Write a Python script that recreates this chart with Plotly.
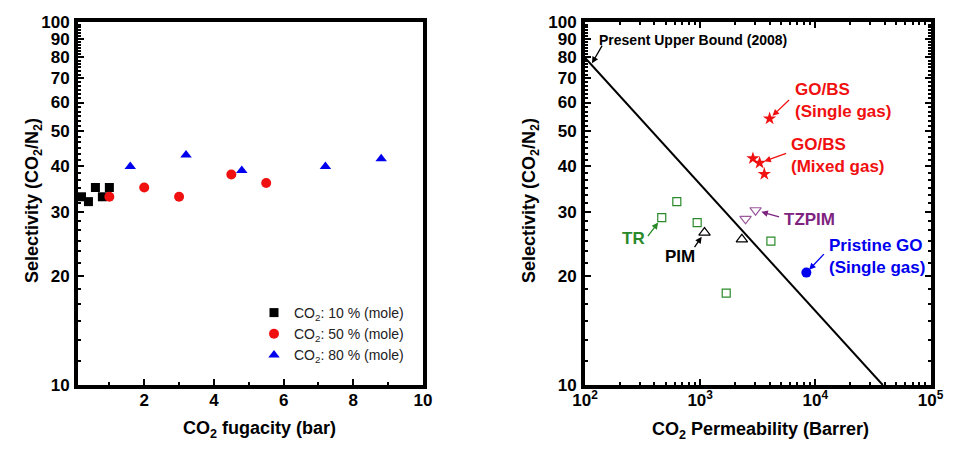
import numpy as np
import plotly.graph_objects as go

# ---------------- data: left panel ----------------
fug_10 = [0.2, 0.4, 0.6, 0.8, 1.0]
sel_10 = [33, 32, 35, 33, 35]
fug_50 = [1.0, 2.0, 3.0, 4.5, 5.5]
sel_50 = [33, 35, 33, 38, 36]
fug_80 = [1.6, 3.2, 4.8, 7.2, 8.8]
sel_80 = [40, 43, 39, 40, 42]
legend_names = ["CO<sub>2</sub>: 10 % (mole)", "CO<sub>2</sub>: 50 % (mole)", "CO<sub>2</sub>: 80 % (mole)"]

# ---------------- data: right panel ----------------
bound_perm = [100, 38500]
bound_sel = [79.7, 10.0]
tr_perm = [464, 627, 942, 1683, 4112]
tr_sel = [28.9, 32.0, 28.0, 17.9, 24.9]
pim_perm = [1091, 2302]
pim_sel = [26.3, 25.2]
tzpim_perm = [2477, 3027]
tzpim_sel = [28.7, 30.3]
gobs_single_perm = [4008]
gobs_single_sel = [54.2]
gobs_mixed_perm = [2871, 3283, 3605]
gobs_mixed_sel = [42.1, 40.9, 38.1]
go_perm = [8357]
go_sel = [20.4]

y_major = [10, 20, 30, 40, 50, 60, 70, 80, 90, 100]
x_left_major = [2, 4, 6, 8, 10]
x_left_minor = [1, 3, 5, 7, 9]
x_right_major = [100, 1000, 10000, 100000]
x_right_labels = ["10<sup>2</sup>", "10<sup>3</sup>", "10<sup>4</sup>", "10<sup>5</sup>"]

# minor ticks on selectivity axis: 5 linear subdivisions between labelled values
y_minor = []
for a, b in zip(y_major[:-1], y_major[1:]):
    y_minor += [a + (b - a) * k / 6 for k in range(1, 6)]
x_right_minor = [m * 10 ** e for e in (2, 3, 4) for m in range(2, 10)]

FONT = "Liberation Sans"
RED = "#f01010"
BLUE = "#0000ee"
GREEN = "#2a8a2a"
PURPLE = "#7e2480"

# page body has an 8px margin: size the figure to fit the window
OFF = 8
W, H = 955 - OFF, 449 - OFF


def px_x(p):
    return (p - OFF) / W


def px_y(p):
    return 1 - (p - OFF) / H


fig = go.Figure()

# left panel
fig.add_trace(go.Scatter(x=fug_10, y=sel_10, mode="markers", name=legend_names[0],
                         marker=dict(symbol="square", size=9, color="black"), xaxis="x", yaxis="y"))
fig.add_trace(go.Scatter(x=fug_50, y=sel_50, mode="markers", name=legend_names[1],
                         marker=dict(symbol="circle", size=10, color=RED), xaxis="x", yaxis="y"))
fig.add_trace(go.Scatter(x=fug_80, y=sel_80, mode="markers", name=legend_names[2],
                         marker=dict(symbol="triangle-up", size=10, color=BLUE), xaxis="x", yaxis="y"))

# right panel
fig.add_trace(go.Scatter(x=bound_perm, y=bound_sel, mode="lines", showlegend=False,
                         line=dict(color="black", width=2), xaxis="x2", yaxis="y2"))
fig.add_trace(go.Scatter(x=tr_perm, y=tr_sel, mode="markers", showlegend=False,
                         marker=dict(symbol="square-open", size=8, color=GREEN, line=dict(width=1.2)),
                         xaxis="x2", yaxis="y2"))
fig.add_trace(go.Scatter(x=pim_perm, y=pim_sel, mode="markers", showlegend=False,
                         marker=dict(symbol="triangle-up-open", size=10, color="black", line=dict(width=1.2)),
                         xaxis="x2", yaxis="y2"))
fig.add_trace(go.Scatter(x=tzpim_perm, y=tzpim_sel, mode="markers", showlegend=False,
                         marker=dict(symbol="triangle-down-open", size=10, color="#9a5a9c", line=dict(width=1.2)),
                         xaxis="x2", yaxis="y2"))
fig.add_trace(go.Scatter(x=gobs_single_perm + gobs_mixed_perm, y=gobs_single_sel + gobs_mixed_sel,
                         mode="markers", showlegend=False,
                         marker=dict(symbol="star", size=10, color=RED, line=dict(width=0)),
                         xaxis="x2", yaxis="y2"))
fig.add_trace(go.Scatter(x=go_perm, y=go_sel, mode="markers", showlegend=False,
                         marker=dict(symbol="circle", size=10, color=BLUE),
                         xaxis="x2", yaxis="y2"))

tickfont = dict(family=FONT, size=17, color="black", weight="bold")
titlefont = dict(family=FONT, size=18, color="black", weight="bold")

ydom = [px_y(385), px_y(22)]
common_y = dict(type="log", range=[1, 2], tickmode="array", tickvals=y_major,
                ticktext=[str(v) for v in y_major], ticks="inside", ticklen=6, tickwidth=2,
                tickcolor="black", showline=True, linewidth=4, linecolor="black",
                showgrid=False, zeroline=False, tickfont=tickfont, automargin=False,
                ticklabelstandoff=1,
                minor=dict(tickmode="array", tickvals=y_minor, ticks="inside", ticklen=3,
                           tickwidth=2, tickcolor="black", showgrid=False),
                domain=ydom)

fig.update_layout(
    template="none",
    width=W, height=H,
    margin=dict(l=0, r=0, t=0, b=0, pad=0),
    paper_bgcolor="white", plot_bgcolor="white",
    font=dict(family=FONT, color="black"),
    xaxis=dict(range=[0.1, 10], domain=[px_x(78), px_x(423)], tickmode="array",
               tickvals=x_left_major, ticks="inside", ticklen=6, tickwidth=2, tickcolor="black",
               showline=True, linewidth=4, linecolor="black", mirror=True, automargin=False,
               showgrid=False, zeroline=False, tickfont=tickfont, ticklabelstandoff=-3,
               minor=dict(tickmode="array", tickvals=x_left_minor, ticks="inside", ticklen=3,
                          tickwidth=2, tickcolor="black", showgrid=False),
               anchor="y"),
    yaxis=dict(**common_y, mirror=True, anchor="x"),
    xaxis2=dict(type="log", range=[2, 5], domain=[px_x(585), px_x(930.5)], tickmode="array",
                tickvals=x_right_major, ticktext=x_right_labels, ticks="inside", ticklen=6,
                tickwidth=2, tickcolor="black", showline=True, linewidth=4, linecolor="black",
                mirror="ticks", showgrid=False, zeroline=False, tickfont=tickfont,
                automargin=False, ticklabelstandoff=-3,
                minor=dict(tickmode="array", tickvals=x_right_minor, ticks="inside", ticklen=3,
                           tickwidth=2, tickcolor="black", showgrid=False),
                anchor="y2"),
    yaxis2=dict(**common_y, mirror="ticks", anchor="x2"),
    legend=dict(x=px_x(254), y=px_y(297), xanchor="left", yanchor="top",
                bgcolor="rgba(0,0,0,0)", font=dict(family=FONT, size=14, color="#222"),
                tracegroupgap=0),
    showlegend=True,
)

# axis titles
axis_titles = [
    ("Selectivity (CO<sub>2</sub>/N<sub>2</sub>)", 33, 201, -90),
    ("Selectivity (CO<sub>2</sub>/N<sub>2</sub>)", 530, 201, -90),
    ("CO<sub>2</sub> fugacity (bar)", 259, 429, 0),
    ("CO<sub>2</sub> Permeability (Barrer)", 760, 430, 0),
]
for txt, px, py, rot in axis_titles:
    fig.add_annotation(x=px_x(px), y=px_y(py), xref="paper", yref="paper", text=txt,
                       showarrow=False, textangle=rot, xanchor="center", yanchor="middle",
                       font=titlefont)

lg = np.log10

# labels on right panel (text)
labels = [
    ("<b>Present Upper Bound (2008)</b>", 127, 89, "black", 14),
    ("<b>GO/BS<br>(Single gas)</b>", 6440, 60.8, RED, 17),
    ("<b>GO/BS<br>(Mixed gas)</b>", 5940, 43.0, RED, 17),
    ("<b>TZPIM</b>", 5160, 28.5, PURPLE, 17),
    ("<b>TR</b>", 201, 25.4, GREEN, 17),
    ("<b>PIM</b>", 476, 22.6, "black", 17),
    ("<b>Pristine GO<br>(Single gas)</b>", 12700, 22.6, BLUE, 17),
]
for txt, xv, yv, col, sz in labels:
    fig.add_annotation(x=lg(xv), y=lg(yv), xref="x2", yref="y2", text=txt, showarrow=False,
                       xanchor="left", yanchor="middle", align="left",
                       font=dict(family=FONT, size=sz, color=col))

# arrows: (target x, target y, tail dx px, tail dy px, colour, standoff)
arrows = [
    (115, 77, 11, -19, "black", 0),
    (gobs_single_perm[0], gobs_single_sel[0], 21, -20, RED, 4),
    (gobs_mixed_perm[1], gobs_mixed_sel[1], 28, -10, RED, 5),
    (tzpim_perm[1], tzpim_sel[1], 25, 7, PURPLE, 6),
    (tr_perm[0], tr_sel[0], -15, 20, GREEN, 6),
    (pim_perm[0], pim_sel[0], -11, 16, "black", 5),
    (go_perm[0], go_sel[0], 19, -20, BLUE, 4),
]
for xv, yv, dx, dy, col, so in arrows:
    fig.add_annotation(x=lg(xv), y=lg(yv), xref="x2", yref="y2", text="", showarrow=True,
                       ax=dx, ay=dy, arrowhead=2, arrowsize=1, arrowwidth=1.3,
                       arrowcolor=col, standoff=so)

fig.write_html("out.html")
